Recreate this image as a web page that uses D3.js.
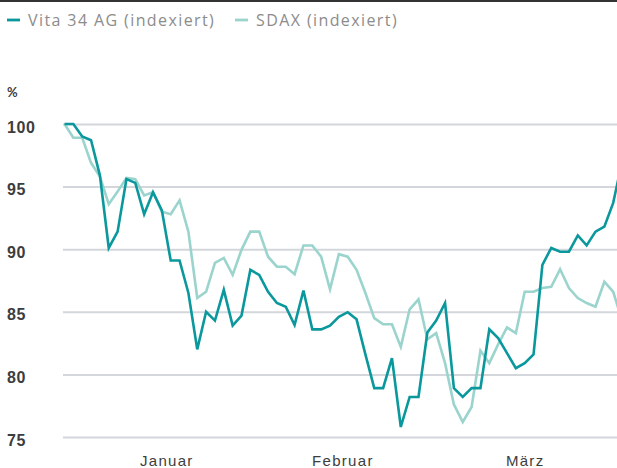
<!DOCTYPE html>
<html>
<head>
<meta charset="utf-8">
<script src="https://cdn.jsdelivr.net/npm/d3@7"></script>
<style>
  body { margin: 0; background: #fff; }
  svg { display: block; font-family: Lato, "Open Sans", sans-serif; }
</style>
</head>
<body>
<div id="chart"></div>
<script>
// indexed values, one per trading day (Jan - Mar)
const vita = [100, 100, 99.0, 98.7, 95.9, 90.1, 91.4, 95.6, 95.3, 92.8,
  94.55, 93.1, 89.1, 89.1, 86.5, 82.0, 85.0, 84.3, 86.75, 83.9,
  84.7, 88.35, 87.95, 86.6, 85.7, 85.4, 83.95, 86.7, 83.6, 83.6,
  83.9, 84.6, 84.97, 84.4, 81.6, 78.9, 78.9, 81.3, 75.8, 78.2,
  78.2, 83.35, 84.3, 85.7, 78.9, 78.2, 78.9, 78.9, 83.6, 82.9,
  81.7, 80.5, 80.9, 81.6, 88.75, 90.1, 89.8, 89.8, 91.1, 90.3,
  91.4, 91.8, 93.7, 97.0];
const sdax = [100, 98.9, 98.9, 96.9, 95.8, 93.6, 94.6, 95.7, 95.6, 94.3,
  94.55, 93.0, 92.8, 93.9, 91.4, 86.1, 86.6, 88.9, 89.3, 87.95,
  89.95, 91.4, 91.4, 89.4, 88.6, 88.6, 88.0, 90.3, 90.3, 89.4,
  86.8, 89.6, 89.4, 88.35, 86.5, 84.5, 84.0, 84.0, 82.2, 85.2,
  86.0, 82.8, 83.3, 80.9, 77.6, 76.2, 77.4, 81.9, 80.9, 82.4,
  83.75, 83.3, 86.6, 86.6, 86.9, 87.0, 88.4, 86.9, 86.1, 85.7,
  85.4, 87.4, 86.6, 84.3];
const months = ['Januar', 'Februar', 'März'];
const monthPos = [11.5, 31.4, 52]; // trading-day index of label
const yTicks = [75, 80, 85, 90, 95, 100];
const seriesNames = ['Vita 34 AG (indexiert)', 'SDAX (indexiert)'];
const colors = ['#0a989d', '#9ad4cd'];

const width = 617, height = 468;
const margin = { top: 124, right: 0, bottom: 31, left: 64 };

const svg = d3.select('#chart').append('svg')
  .attr('width', width)
  .attr('height', height);

// top rule
svg.append('rect')
  .attr('x', 0).attr('y', 0)
  .attr('width', width).attr('height', 2)
  .attr('fill', '#333');

const x = d3.scaleLinear().domain([0, 62]).range([64.5, 613.2]);
const y = d3.scaleLinear().domain([75, 100]).range([height - margin.bottom, margin.top]);

// y axis with gridlines
const yAxis = svg.append('g')
  .attr('class', 'y axis')
  .attr('transform', `translate(${margin.left - 1},0)`)
  .call(d3.axisRight(y).tickValues(yTicks).tickSize(width - margin.left + 1).tickFormat(d3.format('d')));
yAxis.select('.domain').remove();
yAxis.selectAll('.tick line')
  .attr('stroke', '#d3d6db')
  .attr('stroke-width', 2);
yAxis.selectAll('.tick text')
  .attr('x', -56)
  .attr('dy', '0.5em')
  .attr('text-anchor', 'start')
  .style('font-size', '16px')
  .style('font-weight', 700)
  .style('letter-spacing', '0.6px')
  .attr('fill', '#3d3d3d');

svg.append('text')
  .attr('x', 7).attr('y', 97)
  .style('font-size', '13px')
  .style('font-weight', 700)
  .attr('fill', '#3d3d3d')
  .text('%');

// x axis: month labels
const xAxis = svg.append('g')
  .attr('class', 'x axis')
  .attr('transform', `translate(0,${height - margin.bottom})`)
  .call(d3.axisBottom(x).tickValues(monthPos).tickSize(0).tickFormat((d, i) => months[i]));
xAxis.select('.domain').remove();
xAxis.selectAll('text')
  .attr('y', 29)
  .attr('dy', 0)
  .style('font-size', '15px')
  .style('letter-spacing', '1.3px')
  .attr('fill', '#3d3d3d');

// lines
const line = d3.line()
  .x((d, i) => x(i))
  .y(d => y(d));

[sdax, vita].forEach((s, k) => {
  svg.append('path')
    .datum(s)
    .attr('fill', 'none')
    .attr('stroke', k === 0 ? colors[1] : colors[0])
    .attr('stroke-width', 2.6)
    .attr('stroke-linejoin', 'miter')
    .attr('d', line);
});

// legend
const legendX = [7, 235];
const legend = svg.append('g').attr('class', 'legend');
seriesNames.forEach((name, i) => {
  const g = legend.append('g').attr('transform', `translate(${legendX[i]},20)`);
  g.append('line')
    .attr('x1', 0).attr('x2', 13)
    .attr('stroke', colors[i])
    .attr('stroke-width', 2.8);
  g.append('text')
    .attr('x', 21).attr('y', 6)
    .style('font-family', '"Open Sans", sans-serif')
    .style('font-size', '16px')
    .style('letter-spacing', '1.4px')
    .attr('fill', '#8c8c8c')
    .text(name);
});
</script>
</body>
</html>
